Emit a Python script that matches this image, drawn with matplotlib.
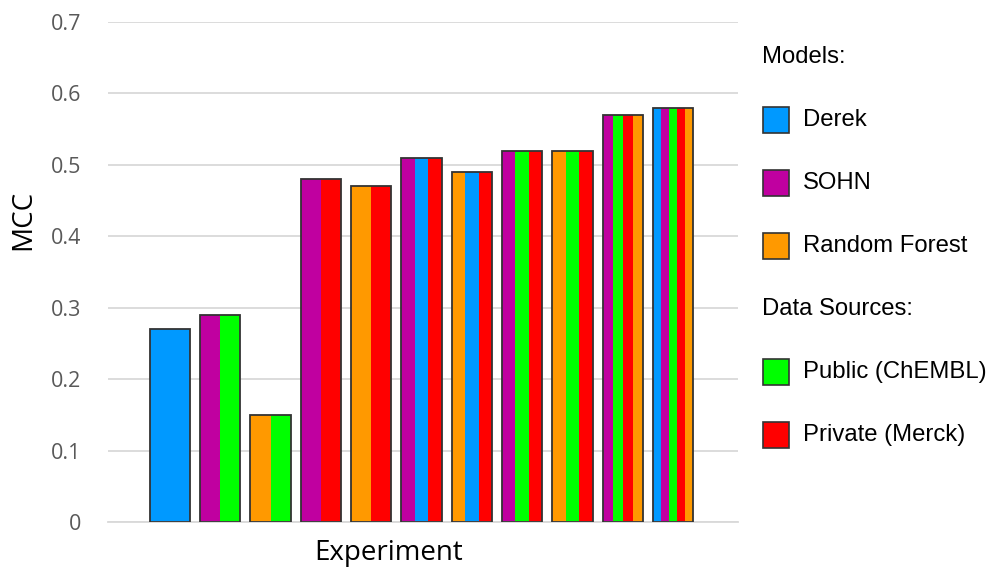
import matplotlib
matplotlib.use("Agg")
import matplotlib.pyplot as plt
import matplotlib.patches as patches

# Data: one bar per experiment, built from stripes of model / data source colours
experiments = [
    ["Derek"],
    ["SOHN", "Public"],
    ["Random Forest", "Public"],
    ["SOHN", "Private"],
    ["Random Forest", "Private"],
    ["SOHN", "Derek", "Private"],
    ["Random Forest", "Derek", "Private"],
    ["SOHN", "Public", "Private"],
    ["Random Forest", "Public", "Private"],
    ["SOHN", "Public", "Private", "Random Forest"],
    ["Derek", "SOHN", "Public", "Private", "Random Forest"],
]
mcc = [0.27, 0.29, 0.15, 0.48, 0.47, 0.51, 0.49, 0.52, 0.52, 0.57, 0.58]

colors = {
    "Derek": "#0099FF",
    "SOHN": "#C000A0",
    "Random Forest": "#FF9900",
    "Public": "#00FF00",
    "Private": "#FF0000",
}
legend_rows = [
    ("Models:", None),
    ("Derek", "Derek"),
    ("SOHN", "SOHN"),
    ("Random Forest", "Random Forest"),
    ("Data Sources:", None),
    ("Public (ChEMBL)", "Public"),
    ("Private (Merck)", "Private"),
]

W, H = 990, 567
fig = plt.figure(figsize=(W / 100, H / 100), dpi=100)
ax = fig.add_axes([108 / W, 1 - 522 / H, 630 / W, 500 / H])

bar_width = 0.8
for i, (parts, val) in enumerate(zip(experiments, mcc)):
    n = len(parts)
    sw = bar_width / n
    left = i - bar_width / 2
    for j, p in enumerate(parts):
        ax.bar(left + j * sw, val, width=sw, align="edge", color=colors[p],
               edgecolor="none", linewidth=0, zorder=2)
    # outline around the whole bar
    ax.bar(i, val, width=bar_width, fill=False, edgecolor="#333333",
           linewidth=1.3, zorder=3)

ax.set_xlim(-1.23, 11.29)
ax.set_ylim(0, 0.7)
ax.set_yticks([0, 0.1, 0.2, 0.3, 0.4, 0.5, 0.6, 0.7])
ax.set_yticklabels(["0", "0.1", "0.2", "0.3", "0.4", "0.5", "0.6", "0.7"])
ax.set_xticks([])
ax.grid(axis="y", color="#d9d9d9", linewidth=1.3, zorder=0)
ax.set_axisbelow(True)
for s in ["top", "right", "left"]:
    ax.spines[s].set_visible(False)
ax.spines["bottom"].set_color("#d9d9d9")
ax.spines["bottom"].set_linewidth(1.3)
ax.tick_params(axis="y", length=0, pad=19, labelcolor="#595959",
               labelsize=15.5)
for lbl in ax.get_yticklabels():
    lbl.set_fontfamily("Open Sans")

ax.set_ylabel("MCC", fontsize=20, fontfamily="Open Sans", color="black")
ax.yaxis.set_label_coords(-(108 - 23) / 630, (522 - 220) / 500)
ax.set_xlabel("Experiment", fontsize=20, fontfamily="Open Sans", color="black")
ax.xaxis.set_label_coords((389 - 108) / 630, -(553 - 522) / 500)
ax.xaxis.label.set_verticalalignment("center")
ax.yaxis.label.set_verticalalignment("center")

# legend drawn by hand in figure pixels
y0, step = 57, 63
for k, (label, key) in enumerate(legend_rows):
    yc = y0 + k * step
    if key is None:
        fig.text(762 / W, 1 - yc / H, label, fontsize=17.2,
                 fontfamily="Liberation Sans", va="center", ha="left")
    else:
        fig.add_artist(patches.Rectangle(
            (763 / W, 1 - (yc + 13) / H), 26 / W, 26 / H,
            transform=fig.transFigure, facecolor=colors[key],
            edgecolor="#333333", linewidth=1.2))
        fig.text(803 / W, 1 - yc / H, label, fontsize=17.2,
                 fontfamily="Liberation Sans", va="center", ha="left")

fig.savefig("out.png", dpi=100)
